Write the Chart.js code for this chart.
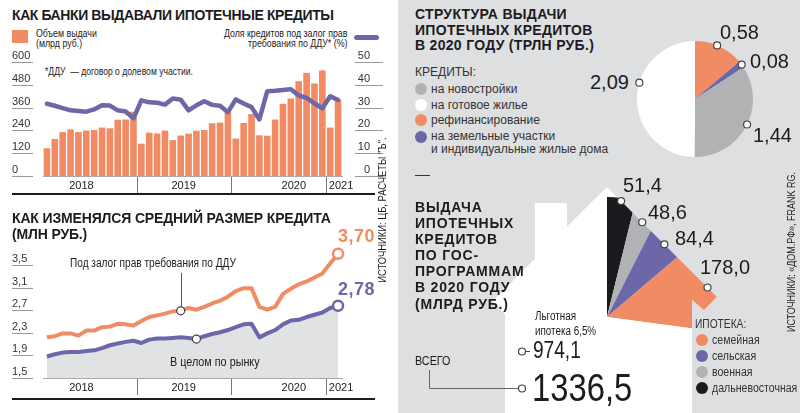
<!DOCTYPE html>
<html lang="ru">
<head>
<meta charset="utf-8">
<title>Ипотечные кредиты</title>
<script src="https://cdn.jsdelivr.net/npm/chart.js@4.4.1/dist/chart.umd.min.js"></script>
<style>
  html, body { margin: 0; padding: 0; }
  body { width: 800px; height: 413px; overflow: hidden; position: relative; background: #fff;
         font-family: 'Liberation Sans', Arial, sans-serif; color: #1c1c1e; }
  .a { position: absolute; white-space: nowrap; transform-origin: left center; }
  .box { position: absolute; }
  .hd { font-weight: bold; font-size: 14px; line-height: 16px; }
  .n { font-size: 12px; }
  .dot { position: absolute; width: 12px; height: 12px; border-radius: 50%; }
  .big { font-size: 20px; line-height: 20px; }
</style>
</head>
<body>

<!-- right panel background -->
<div class="box" style="left:398px;top:0;width:402px;height:413px;background:#dedfe1"></div>

<!-- ===== top left: volume + DDU share ===== -->
<div class="a hd" style="left:12px;top:7px;letter-spacing:-0.4px">КАК БАНКИ ВЫДАВАЛИ ИПОТЕЧНЫЕ КРЕДИТЫ</div>
<div class="box" style="left:12px;top:30px;width:16px;height:13px;background:#f08b63"></div>
<div class="a n" style="left:36px;top:28px;font-size:11px;line-height:10px;transform:scaleX(0.8)">Объем выдачи<br>(млрд руб.)</div>
<div class="a n" style="right:453px;top:28px;font-size:11px;line-height:10px;text-align:right;transform-origin:right center;transform:scaleX(0.8)">Доля кредитов под залог прав<br>требования по ДДУ* (%)</div>
<div class="box" style="left:354px;top:35px;width:25px;height:5px;border-radius:3px;background:#6c67a8"></div>
<div class="a n" style="left:45px;top:65px;font-size:11px;line-height:12px;transform:scaleX(0.78)">*ДДУ&nbsp; — договор о долевом участии.</div>
<div class="box" style="left:0;top:50px;width:400px;height:150px"><canvas id="volChart" width="400" height="150"></canvas></div>
<div class="box" style="left:12px;top:193px;width:363px;height:2px;background:#1c1c1e"></div>

<!-- ===== bottom left: average loan size ===== -->
<div class="a hd" style="left:12px;top:210px;letter-spacing:-0.15px">КАК ИЗМЕНЯЛСЯ СРЕДНИЙ РАЗМЕР КРЕДИТА<br>(МЛН РУБ.)</div>
<div class="box" style="left:0;top:235px;width:400px;height:165px"><canvas id="sizeChart" width="400" height="165"></canvas></div>
<div class="a n" style="left:70px;top:256px;line-height:14px;transform:scaleX(0.84)">Под залог прав требования по ДДУ</div>
<div class="a n" style="left:170px;top:355px;line-height:14px;transform:scaleX(0.9)">В целом по рынку</div>
<div class="a" style="left:338px;top:227px;font-size:18px;line-height:18px;font-weight:bold;color:#f08b63;letter-spacing:0.5px">3,70</div>
<div class="a" style="left:338px;top:280px;font-size:18px;line-height:18px;font-weight:bold;color:#6c67a8;letter-spacing:0.5px">2,78</div>
<div class="box" style="left:12px;top:398px;width:363px;height:2px;background:#1c1c1e"></div>
<div class="a n" style="left:383px;top:210px;font-size:10px;line-height:10px;transform-origin:center;transform:translate(-50%,-50%) rotate(-90deg) scaleX(0.94)">ИСТОЧНИКИ: ЦБ, РАСЧЕТЫ "Ъ".</div>

<!-- ===== top right: structure pie ===== -->
<div class="a hd" style="left:415px;top:7px;line-height:15.5px;letter-spacing:0.3px">СТРУКТУРА ВЫДАЧИ<br>ИПОТЕЧНЫХ КРЕДИТОВ<br>В 2020 ГОДУ (ТРЛН РУБ.)</div>
<div class="a n" style="left:415px;top:65px;line-height:14px;color:#333">КРЕДИТЫ:</div>
<div class="dot" style="left:415px;top:83px;background:#b1b2b4"></div>
<div class="a n" style="left:431px;top:82px;line-height:14px;color:#333">на новостройки</div>
<div class="dot" style="left:415px;top:99px;background:#fff"></div>
<div class="a n" style="left:431px;top:98px;line-height:14px;color:#333">на готовое жилье</div>
<div class="dot" style="left:415px;top:114px;background:#f08b63"></div>
<div class="a n" style="left:431px;top:113px;line-height:14px;color:#333">рефинансирование</div>
<div class="dot" style="left:415px;top:131px;background:#6c67a8"></div>
<div class="a n" style="left:431px;top:130px;line-height:13px;color:#333">на земельные участки<br>и индивидуальные жилые дома</div>
<div class="box" style="left:630px;top:34px;width:130px;height:130px"><canvas id="structChart" width="130" height="130"></canvas></div>
<div class="a big" style="left:590px;top:72px">2,09</div>
<div class="a big" style="left:720px;top:22px">0,58</div>
<div class="a big" style="left:750px;top:51px">0,08</div>
<div class="a big" style="left:753px;top:125px">1,44</div>
<div class="box" style="left:415px;top:175px;width:15px;height:1px;background:#333"></div>

<!-- ===== bottom right: state programmes in the house ===== -->
<div class="box" style="left:477px;top:177px;width:260px;height:280px"><canvas id="houseChart" width="260" height="280"></canvas></div>
<div class="a hd" style="left:415px;top:199px;line-height:16.1px;letter-spacing:0.8px">ВЫДАЧА<br>ИПОТЕЧНЫХ<br>КРЕДИТОВ<br>ПО ГОС-<br>ПРОГРАММАМ<br>В 2020 ГОДУ<br>(МЛРД РУБ.)</div>
<div class="a big" style="left:623px;top:175px">51,4</div>
<div class="a big" style="left:648px;top:202px">48,6</div>
<div class="a big" style="left:675px;top:228px">84,4</div>
<div class="a big" style="left:700px;top:257px">178,0</div>
<div class="a n" style="left:535px;top:309px;line-height:15px;transform:scaleX(0.82)">Льготная<br>ипотека 6,5%</div>
<div class="a n" style="left:533px;top:338px;font-size:23px;line-height:24px;transform:scaleX(0.83)">974,1</div>
<div class="a n" style="left:415px;top:354px;line-height:14px;transform:scaleX(0.9)">ВСЕГО</div>
<div class="a n" style="left:532px;top:368px;font-size:39px;line-height:40px;transform:scaleX(0.84)">1336,5</div>
<svg class="box" style="left:0;top:0" width="800" height="413">
  <path d="M429.5 370 V388.5 H518.5" stroke="#666" fill="none"/>
  <circle cx="522" cy="388.5" r="3.5" fill="#fff" stroke="#444" stroke-width="1.2"/>
  <line x1="525.5" y1="351.5" x2="530" y2="351.5" stroke="#444"/>
  <circle cx="522" cy="351.5" r="3.5" fill="#fff" stroke="#444" stroke-width="1.2"/>
</svg>
<div class="a n" style="left:695px;top:317px;line-height:14px;color:#333;transform:scaleX(0.85)">ИПОТЕКА:</div>
<div class="dot" style="left:696px;top:334px;background:#f08b63"></div>
<div class="a n" style="left:712px;top:333px;line-height:14px;color:#333;transform:scaleX(0.88)">семейная</div>
<div class="dot" style="left:696px;top:350px;background:#6c67a8"></div>
<div class="a n" style="left:712px;top:349px;line-height:14px;color:#333;transform:scaleX(0.88)">сельская</div>
<div class="dot" style="left:696px;top:366px;background:#b1b2b4"></div>
<div class="a n" style="left:712px;top:365px;line-height:14px;color:#333;transform:scaleX(0.88)">военная</div>
<div class="dot" style="left:696px;top:382px;background:#1b1a1f"></div>
<div class="a n" style="left:712px;top:381px;line-height:14px;color:#333;transform:scaleX(0.88)">дальневосточная</div>
<div class="a n" style="left:792px;top:252px;font-size:10px;line-height:10px;transform-origin:center;transform:translate(-50%,-50%) rotate(-90deg) scaleX(0.9)">ИСТОЧНИКИ: «ДОМ.РФ», FRANK RG.</div>

<script>
// Mortgage lending infographic

const months = [
  '01.2018', '02.2018', '03.2018', '04.2018', '05.2018', '06.2018', '07.2018', '08.2018', '09.2018', '10.2018', '11.2018', '12.2018',
  '01.2019', '02.2019', '03.2019', '04.2019', '05.2019', '06.2019', '07.2019', '08.2019', '09.2019', '10.2019', '11.2019', '12.2019',
  '01.2020', '02.2020', '03.2020', '04.2020', '05.2020', '06.2020', '07.2020', '08.2020', '09.2020', '10.2020', '11.2020', '12.2020',
  '01.2021', '02.2021',
];
const yearLabelIdx = [4, 17, 31, 37];

// billion rubles issued per month
const volume = [
  146, 195, 231, 245, 231, 239, 242, 255, 251, 296, 297, 338,
  170, 228, 224, 239, 189, 213, 223, 238, 242, 278, 281, 352,
  197, 279, 326, 214, 212, 297, 380, 408, 499, 543, 487, 556,
  255, 401,
];
// share of loans secured by DDU rights, %
const dduShare = [
  31.7, 30.8, 29.8, 28.8, 28.5, 28.2, 29.2, 31.0, 30.9, 28.8, 28.3, 25.3,
  33.2, 32.3, 32.1, 31.3, 34.0, 33.5, 28.8, 31.0, 32.8, 31.2, 30.8, 28.0,
  33.6, 31.8, 30.2, 24.8, 37.2, 37.4, 37.7, 38.1, 35.3, 34.3, 31.8, 29.7,
  35.0, 33.3,
];
const volTicks = [0, 120, 240, 360, 480, 600];
const shareTicks = [0, 10, 20, 30, 40, 50];

// average loan size, million rubles
const avgDdu = [
  2.22, 2.24, 2.29, 2.29, 2.25, 2.34, 2.34, 2.40, 2.41, 2.46, 2.45, 2.43,
  2.51, 2.58, 2.61, 2.64, 2.68, 2.69, 2.74, 2.71, 2.76, 2.82, 2.87, 2.94,
  3.04, 3.09, 3.09, 2.76, 2.71, 2.76, 2.99, 3.08, 3.16, 3.21, 3.28, 3.35,
  3.53, 3.70,
];
const avgMarket = [
  1.88, 1.92, 1.95, 1.96, 1.96, 1.98, 1.99, 2.03, 2.08, 2.11, 2.14, 2.16,
  2.12, 2.18, 2.20, 2.20, 2.21, 2.22, 2.21, 2.19, 2.24, 2.28, 2.31, 2.35,
  2.40, 2.45, 2.46, 2.22, 2.29, 2.35, 2.45, 2.52, 2.53, 2.58, 2.62, 2.66,
  2.74, 2.78,
];
const sizeTicks = [1.5, 1.9, 2.3, 2.7, 3.1, 3.5];
const dduNoteIdx = 17;
const marketNoteIdx = 19;

// 2020 structure, trillion rubles (clockwise from the top)
const structLabels = ['рефинансирование', 'на земельные участки и индивидуальные жилые дома', 'на новостройки', 'на готовое жилье'];
const structValues = [0.58, 0.08, 1.44, 2.09];

// 2020 state programmes, billion rubles (clockwise from the top)
const programLabels = ['дальневосточная', 'военная', 'сельская', 'семейная', 'Льготная ипотека 6,5%'];
const programValues = [51.4, 48.6, 84.4, 178.0, 974.1];

const ORANGE = '#f08b63';
const PURPLE = '#6c67a8';
const GREY = '#b1b2b4';
const BLACK = '#1b1a1f';

Chart.defaults.font.family = "'Liberation Sans', Arial, sans-serif";
Chart.defaults.color = '#333';

const isYearStart = i => i > 0 && i < months.length && months[i].slice(3) !== months[i - 1].slice(3);

/**
 * Short rules under the value-axis labels
 */
const tickRules = {
  id: 'tickRules',
  afterDraw(chart, args, opts) {
    const ctx = chart.ctx;
    ctx.save();
    ctx.strokeStyle = '#999';
    ctx.lineWidth = 1;
    Object.keys(opts.spans || {}).forEach(id => {
      const scale = chart.scales[id];
      const [x1, x2] = opts.spans[id];
      scale.ticks.forEach(t => {
        const y = Math.round(scale.getPixelForValue(t.value)) + 0.5;
        ctx.beginPath();
        ctx.moveTo(x1, y);
        ctx.lineTo(x2, y);
        ctx.stroke();
      });
    });
    ctx.restore();
  },
};

/**
 * Leader lines from annotated points
 */
const pointLeaders = {
  id: 'pointLeaders',
  beforeDatasetsDraw(chart, args, opts) {
    const ctx = chart.ctx;
    ctx.save();
    ctx.strokeStyle = '#555';
    ctx.lineWidth = 1;
    (opts.items || []).forEach(it => {
      const pt = chart.getDatasetMeta(it.dataset).data[it.index];
      const x = Math.round(pt.x) + 0.5;
      ctx.beginPath();
      ctx.moveTo(x, pt.y);
      ctx.lineTo(x, pt.y + it.length);
      ctx.stroke();
    });
    ctx.restore();
  },
};

function drawRing(ctx, x, y) {
  ctx.beginPath();
  ctx.arc(x, y, 3.5, 0, Math.PI * 2);
  ctx.fillStyle = '#fff';
  ctx.fill();
  ctx.lineWidth = 1.2;
  ctx.strokeStyle = '#444';
  ctx.stroke();
}

/**
 * Small rings on the pie rim (or on another edge)
 */
const rimMarks = {
  id: 'rimMarks',
  afterDatasetsDraw(chart, args, opts) {
    const ctx = chart.ctx;
    ctx.save();
    chart.getDatasetMeta(0).data.forEach((arc, i) => {
      if ((opts.skip || []).includes(i)) return;
      const p = arc.getProps(['x', 'y', 'startAngle', 'endAngle', 'outerRadius'], true);
      const f = (opts.at && opts.at[i] != null) ? opts.at[i] : 0.5;
      const a = p.startAngle + (p.endAngle - p.startAngle) * f;
      const r = opts.edge ? opts.edge(a) : p.outerRadius;
      drawRing(ctx, p.x + r * Math.cos(a), p.y + r * Math.sin(a));
    });
    ctx.restore();
  },
};

// house outline, relative to the centre of the programmes pie
const HOUSE = [
  [0, -130], [110, -20], [97, -7], [85, -17], [85, 100],
  [-102, 100], [-102, -3], [-114, -16], [-72, -58], [-72, -114], [-40, -114], [-40, -90],
];
const ROOF = [HOUSE[0], HOUSE[1]];

// distance from the centre to the right roof slope along angle a
function roofDistance(a) {
  const dx = Math.cos(a), dy = Math.sin(a);
  const [ux, uy] = ROOF[0];
  const vx = ROOF[1][0] - ux, vy = ROOF[1][1] - uy;
  const det = -dx * vy + vx * dy;
  return (-ux * vy + vx * uy) / det;
}

const houseShape = {
  id: 'houseShape',
  beforeDatasetsDraw(chart) {
    const arc = chart.getDatasetMeta(0).data[0];
    const ctx = chart.ctx;
    ctx.save();
    ctx.beginPath();
    HOUSE.forEach(([hx, hy], i) => {
      if (i === 0) ctx.moveTo(arc.x + hx, arc.y + hy);
      else ctx.lineTo(arc.x + hx, arc.y + hy);
    });
    ctx.closePath();
    ctx.fillStyle = '#fff';
    ctx.fill();
    ctx.clip();
  },
  afterDatasetsDraw(chart) {
    chart.ctx.restore();
  },
};

const monthAxis = (height) => ({
  type: 'category',
  offset: true,
  grid: {
    offset: true,
    drawOnChartArea: false,
    drawTicks: true,
    tickLength: 17,
    color: c => isYearStart(c.index) ? '#777' : 'rgba(0,0,0,0)',
  },
  border: { display: true, color: '#aaa' },
  ticks: {
    autoSkip: false,
    maxRotation: 0,
    minRotation: 0,
    padding: -14,
    labelOffset: 3,
    font: { size: 11 },
    color: '#222',
    callback: (v, i) => yearLabelIdx.includes(i) ? months[i].slice(3) : '',
  },
  afterFit: s => { s.height = height; },
});

const valueAxis = (position, min, max, ticks, width, fmt) => ({
  position,
  min,
  max,
  grid: { display: false, drawTicks: false },
  border: { display: false },
  afterBuildTicks: s => { s.ticks = ticks.map(v => ({ value: v })); },
  afterFit: s => { s.width = width; },
  ticks: {
    crossAlign: 'far',
    labelOffset: -6,
    padding: 0,
    font: { size: 11 },
    color: '#333',
    callback: fmt || (v => String(v)),
  },
});

new Chart(document.getElementById('volChart'), {
  data: {
    labels: months,
    datasets: [
      {
        type: 'line',
        label: 'Доля кредитов под залог прав требования по ДДУ* (%)',
        data: dduShare,
        yAxisID: 'y1',
        borderColor: PURPLE,
        borderWidth: 4.5,
        borderJoinStyle: 'round',
        borderCapStyle: 'round',
        pointRadius: 0,
        order: 0,
      },
      {
        type: 'bar',
        label: 'Объем выдачи (млрд руб.)',
        data: volume,
        yAxisID: 'y',
        backgroundColor: ORANGE,
        barPercentage: 0.84,
        categoryPercentage: 1,
        order: 1,
      },
    ],
  },
  options: {
    responsive: false,
    animation: false,
    events: [],
    layout: { padding: { left: 12, right: 30, top: 12, bottom: 0 } },
    plugins: {
      legend: { display: false },
      tooltip: { enabled: false },
      tickRules: { spans: { y: [12, 33], y1: [355, 383] } },
    },
    scales: {
      x: monthAxis(24),
      y: valueAxis('left', 0, 600, volTicks, 31),
      y1: valueAxis('right', 0, 50, shareTicks, 28),
    },
  },
  plugins: [tickRules],
});

const lastIdx = months.length - 1;
const comma = v => v.toFixed(1).replace('.', ',');

new Chart(document.getElementById('sizeChart'), {
  type: 'line',
  data: {
    labels: months,
    datasets: [
      {
        label: 'Под залог прав требования по ДДУ',
        data: avgDdu,
        borderColor: ORANGE,
        borderWidth: 4,
        borderJoinStyle: 'round',
        fill: false,
        clip: 8,
        pointRadius: c => c.dataIndex === lastIdx ? 5 : c.dataIndex === dduNoteIdx ? 4 : 0,
        pointBorderWidth: c => c.dataIndex === lastIdx ? 2.5 : 1.2,
        pointBorderColor: c => c.dataIndex === lastIdx ? ORANGE : '#444',
        pointBackgroundColor: '#fff',
      },
      {
        label: 'В целом по рынку',
        data: avgMarket,
        borderColor: PURPLE,
        borderWidth: 4,
        borderJoinStyle: 'round',
        fill: 'start',
        backgroundColor: '#e1e2e4',
        clip: 8,
        pointRadius: c => c.dataIndex === lastIdx ? 5 : c.dataIndex === marketNoteIdx ? 4 : 0,
        pointBorderWidth: c => c.dataIndex === lastIdx ? 2.5 : 1.2,
        pointBorderColor: c => c.dataIndex === lastIdx ? PURPLE : '#444',
        pointBackgroundColor: '#fff',
      },
    ],
  },
  options: {
    responsive: false,
    animation: false,
    events: [],
    layout: { padding: { left: 12, right: 58, top: 6, bottom: 0 } },
    plugins: {
      legend: { display: false },
      tooltip: { enabled: false },
      tickRules: { spans: { y: [12, 33] } },
      pointLeaders: { items: [
        { dataset: 0, index: dduNoteIdx, length: -38 },
        { dataset: 1, index: marketNoteIdx, length: 15 },
      ] },
    },
    scales: {
      x: monthAxis(22),
      y: valueAxis('left', 1.5, 3.9, sizeTicks, 31, comma),
    },
  },
  plugins: [tickRules, pointLeaders],
});

new Chart(document.getElementById('structChart'), {
  type: 'pie',
  data: {
    labels: structLabels,
    datasets: [{
      data: structValues,
      backgroundColor: [ORANGE, PURPLE, GREY, '#fff'],
      borderWidth: 0,
    }],
  },
  options: {
    responsive: false,
    animation: false,
    events: [],
    layout: { padding: 7 },
    plugins: {
      legend: { display: false },
      tooltip: { enabled: false },
      rimMarks: { at: [0.45, 0.55, 0.48, 0.59] },
    },
  },
  plugins: [rimMarks],
});

new Chart(document.getElementById('houseChart'), {
  type: 'pie',
  data: {
    labels: programLabels,
    datasets: [{
      data: programValues,
      backgroundColor: [BLACK, GREY, PURPLE, ORANGE, '#fff'],
      borderWidth: 0,
    }],
  },
  options: {
    responsive: false,
    animation: false,
    events: [],
    layout: { padding: { left: 10, right: 10, top: 20, bottom: 20 } },
    plugins: {
      legend: { display: false },
      tooltip: { enabled: false },
      rimMarks: { skip: [4], edge: roofDistance },
    },
  },
  plugins: [houseShape, rimMarks],
});
</script>
</body>
</html>
